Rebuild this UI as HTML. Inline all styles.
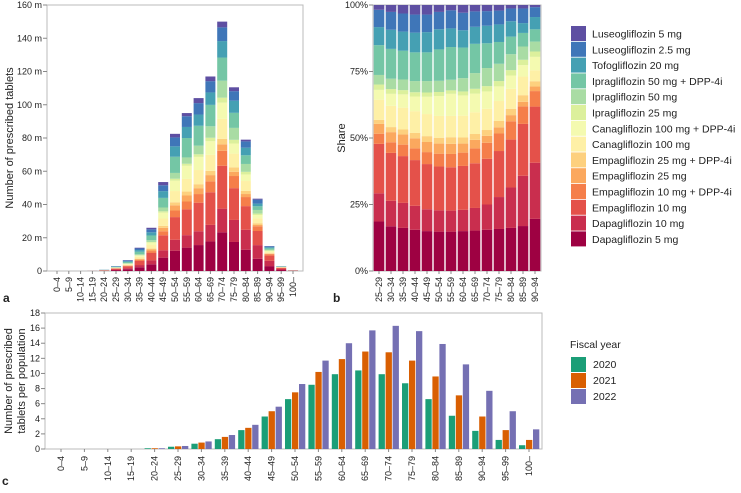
<!DOCTYPE html>
<html><head><meta charset="utf-8"><style>
body{margin:0;background:#fff;font-family:"Liberation Sans",sans-serif;}
svg text{font-family:"Liberation Sans",sans-serif;fill:#222;}
</style></head><body>
<svg id="s" width="741" height="488" viewBox="0 0 741 488" xmlns="http://www.w3.org/2000/svg"></svg>
<script>
const ages=["0–4","5–9","10–14","15–19","20–24","25–29","30–34","35–39","40–44","45–49","50–54","55–59","60–64","65–69","70–74","75–79","80–84","85–89","90–94","95–99","100–"];
const totalsA=[0,0,0,0.1,0.8,3,6.5,14,26,53.5,82.5,95,104,117,150,110.5,79,43.5,15,3,0.5];
const agesB=["25–29","30–34","35–39","40–44","45–49","50–54","55–59","60–64","65–69","70–74","75–79","80–84","85–89","90–94"];
const drugs=["Dapagliflozin 5 mg","Dapagliflozin 10 mg","Empagliflozin 10 mg","Empagliflozin 10 mg + DPP-4i","Empagliflozin 25 mg","Empagliflozin 25 mg + DPP-4i","Canagliflozin 100 mg","Canagliflozin 100 mg + DPP-4i","Ipragliflozin 25 mg","Ipragliflozin 50 mg","Ipragliflozin 50 mg + DPP-4i","Tofogliflozin 20 mg","Luseogliflozin 2.5 mg","Luseogliflozin 5 mg"];
const colors=["#9e0142","#c92e4e","#e4514a","#f57e4a","#fba85e","#fdd07e","#fef0a6","#f4fab0","#dcf09c","#a9dca4","#74c6a5","#45a0b3","#3f76b8","#5e4fa2"];
const dapa5=[18.6,16.8,16.2,15.5,15.0,14.8,14.8,15.0,15.2,15.5,15.8,16.2,16.9,19.5];
const dapa10=[10.6,9.6,9.4,9.0,8.2,8.0,7.9,8.0,8.5,9.5,12.0,15.2,18.9,21.0];
const empa10=[18.6,18.0,17.6,17.2,17.0,16.5,16.3,16.5,16.8,17.2,17.3,18.0,19.5,21.0];
const empa10d=[3.8,4.0,4.3,4.4,4.5,4.8,5.0,5.0,5.6,6.0,6.6,6.9,6.6,5.8];
const empa25=[3.7,3.8,3.8,3.8,3.8,3.8,3.8,3.4,3.2,2.6,2.3,2.3,1.7,1.7];
const empa25d=[1.5,1.9,1.9,2.0,2.2,2.2,2.5,2.3,2.2,2.2,2.4,2.4,2.5,2.0];
const cana100=[7.6,8.0,8.2,8.2,8.3,8.2,8.0,8.2,8.2,8.0,7.5,7.5,7.0,4.1];
const cana100d=[3.7,4.5,5.0,5.5,6.5,7.5,8.3,7.6,7.0,6.5,5.5,5.0,4.3,5.0];
const ipra25=[2.0,1.8,1.6,1.6,1.6,1.5,1.3,1.5,1.8,2.0,2.0,2.0,2.0,2.0];
const ipra50=[3.6,3.9,4.0,4.2,4.3,4.2,4.0,5.0,5.9,6.8,6.5,6.0,5.0,3.7];
const ipra50d=[11.2,11.2,10.8,10.8,10.8,11.8,12.3,11.5,11.0,9.3,8.2,6.6,5.1,4.6];
const tofo=[6.8,7.2,7.2,7.4,7.6,7.6,7.0,6.5,6.4,6.6,6.6,5.8,3.7,4.6];
const luseo25=[6.5,6.7,6.8,6.8,6.6,6.5,6.8,6.6,5.8,5.5,5.2,4.8,5.5,3.7];
const luseo5=[1.8,2.6,3.2,3.6,3.6,2.6,2.0,2.9,2.4,2.3,2.1,1.3,1.3,0.8];
const years=["2020","2021","2022"];
const yearColors=["#1b9e77","#d95f02","#7570b3"];
const rate2020=[0,0,0,0,0.1,0.3,0.7,1.3,2.5,4.3,6.6,8.5,9.9,10.4,9.9,8.7,6.6,4.4,2.4,1.2,0.5];
const rate2021=[0,0,0,0,0.1,0.35,0.85,1.6,2.8,5.0,7.5,10.2,11.9,12.9,12.8,11.7,9.6,7.1,4.3,2.5,1.2];
const rate2022=[0,0,0,0,0.1,0.4,1.0,1.85,3.2,5.6,8.6,11.7,14.0,15.7,16.3,15.6,13.9,11.2,7.7,5.0,2.6];
const aTicks=[0,20,40,60,80,100,120,140,160];
const bTicks=[0,25,50,75,100];
const cTicks=[0,2,4,6,8,10,12,14,16,18];

const series=[dapa5,dapa10,empa10,empa10d,empa25,empa25d,cana100,cana100d,ipra25,ipra50,ipra50d,tofo,luseo25,luseo5];
const rates=[rate2020,rate2021,rate2022];
const S=document.getElementById('s');const NS="http://www.w3.org/2000/svg";
function el(t,a,p){const e=document.createElementNS(NS,t);for(const k in a)e.setAttribute(k,a[k]);(p||S).appendChild(e);return e;}
function txt(x,y,s,a,p){const e=el('text',Object.assign({x:x,y:y,'font-size':9},a||{}),p);e.textContent=s;return e;}
function shares(j){let sum=0;series.forEach(s=>sum+=s[j]);return series.map(s=>s[j]/sum);}

// ===== Panel a =====
const ga=el('g',{});
const aL=47,aR=303,aT=5,aB=271;
const ya=v=>aB-(v/160)*(aB-aT);
const xa=i=>57+11.8*i;
el('rect',{x:aL,y:aT,width:aR-aL,height:aB-aT,fill:'none',stroke:'#bbb'},ga);
aTicks.forEach(t=>{const l=txt(42,ya(t)+3,t===0?'0':t+' m',{'text-anchor':'end'},ga);el('line',{x1:43,x2:aL,y1:ya(t),y2:ya(t),stroke:'#888'},ga);});
ages.forEach((a,i)=>{
  let j=Math.max(0,Math.min(agesB.length-1,i-5));
  const sh=shares(j);let cum=0;
  sh.forEach((f,k)=>{const v=totalsA[i]*f;const r=el('rect',{x:xa(i)-5,y:ya(cum+v),width:10,height:Math.max(0,ya(cum)-ya(cum+v)),fill:colors[k]},ga);
    cum+=v;});
  el('line',{x1:xa(i),x2:xa(i),y1:aB,y2:aB+3,stroke:'#888'},ga);
  const l=txt(xa(i)+3,aB+6,a,{'text-anchor':'end',transform:`rotate(-90 ${xa(i)+3} ${aB+6})`},ga);
});
const at=txt(13,138,'Number of prescribed tablets',{'font-size':11,'text-anchor':'middle',transform:'rotate(-90 13 138)'},ga);
const la=txt(3,302,'a',{'font-size':12,'font-weight':'bold'},ga);

// ===== Panel b =====
const gb=el('g',{});
const bL=373,bR=541,bT=5,bB=271;
const yb=v=>bB-(v/100)*(bB-bT);
const xb=i=>379+12*i;
el('rect',{x:bL,y:bT,width:bR-bL,height:bB-bT,fill:'none',stroke:'#bbb'},gb);
bTicks.forEach(t=>{const l=txt(368,yb(t)+3,t+'%',{'text-anchor':'end'},gb);el('line',{x1:369,x2:bL,y1:yb(t),y2:yb(t),stroke:'#888'},gb);});
agesB.forEach((a,j)=>{
  const sh=shares(j);let cum=0;
  sh.forEach((f,k)=>{const v=f*100;const r=el('rect',{x:xb(j)-5.3,y:yb(cum+v),width:10.6,height:yb(cum)-yb(cum+v),fill:colors[k]},gb);
    cum+=v;});
  el('line',{x1:xb(j),x2:xb(j),y1:bB,y2:bB+3,stroke:'#888'},gb);
  const l=txt(xb(j)+3,bB+6,a,{'text-anchor':'end',transform:`rotate(-90 ${xb(j)+3} ${bB+6})`},gb);
});
const bt=txt(345,138,'Share',{'font-size':11,'text-anchor':'middle',transform:'rotate(-90 345 138)'},gb);
const lb=txt(333,302,'b',{'font-size':12,'font-weight':'bold'},gb);

// legend
const gl=el('g',{});
for(let k=drugs.length-1,r=0;k>=0;k--,r++){
  const y=26+15.8*r;
  const sw=el('rect',{x:571,y:y,width:15,height:15,fill:colors[k]},gl);
  const t=txt(592,y+11.5,drugs[k],{'font-size':10.5},gl);
}

// ===== Panel c =====
const gc=el('g',{});
const cL=45,cR=542,cT=313,cB=449;
const yc=v=>cB-(v/18)*(cB-cT);
const xc=i=>61+23.4*i;
el('rect',{x:cL,y:cT,width:cR-cL,height:cB-cT,fill:'none',stroke:'#bbb'},gc);
cTicks.forEach(t=>{const l=txt(40,yc(t)+3,String(t),{'text-anchor':'end','font-size':9},gc);el('line',{x1:41,x2:cL,y1:yc(t),y2:yc(t),stroke:'#888'},gc);});
ages.forEach((a,i)=>{
  rates.forEach((r,k)=>{const b=el('rect',{x:xc(i)-10+7*k,y:yc(r[i]),width:6.3,height:cB-yc(r[i]),fill:yearColors[k]},gc);
    });
  el('line',{x1:xc(i),x2:xc(i),y1:cB,y2:cB+3,stroke:'#888'},gc);
  const l=txt(xc(i)+3,cB+7,a,{'text-anchor':'end',transform:`rotate(-90 ${xc(i)+3} ${cB+7})`},gc);
});
const ct1=txt(12,381,'Number of prescribed',{'font-size':11,'text-anchor':'middle',transform:'rotate(-90 12 381)'},gc);
const ct2=txt(25,381,'tablets per population',{'font-size':11,'text-anchor':'middle',transform:'rotate(-90 25 381)'},gc);
const lc=txt(2,485,'c',{'font-size':12,'font-weight':'bold'},gc);
const glc=el('g',{});
const lt=txt(570,348,'Fiscal year',{'font-size':10.5},glc);
years.forEach((y,k)=>{const sw=el('rect',{x:571,y:357+16*k,width:15,height:15,fill:yearColors[k]},glc);
  const t=txt(593,368+16*k,y,{'font-size':10.5},glc);});
</script>
</body></html>
